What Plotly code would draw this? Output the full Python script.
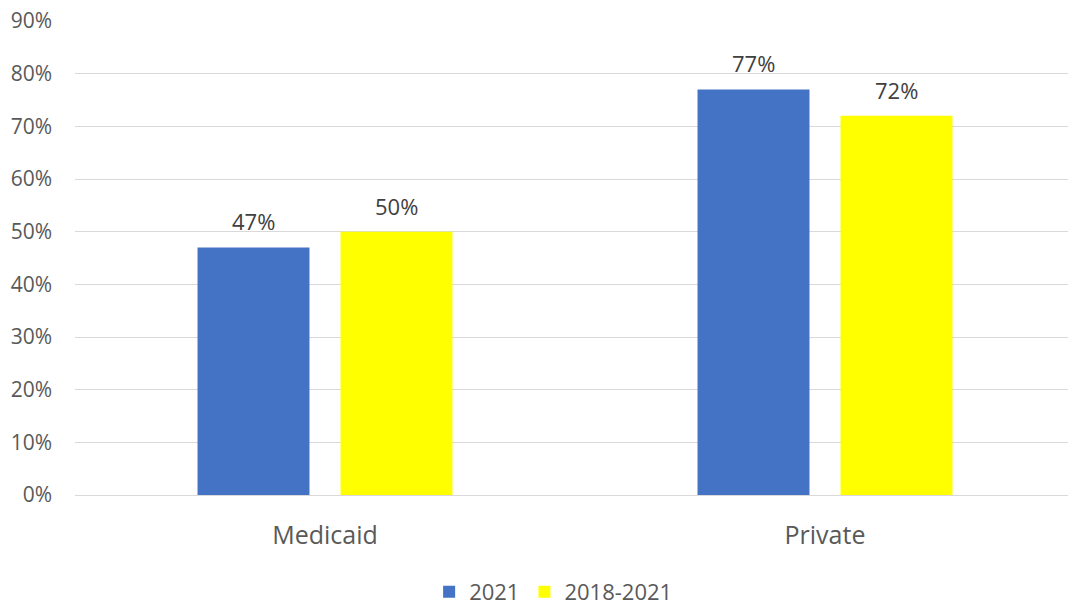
import plotly.graph_objects as go

categories = ["Medicaid", "Private"]
series_names = ["2021", "2018-2021"]
values_2021 = [0.47, 0.77]
values_2018_2021 = [0.50, 0.72]
colors = ["#4472C4", "#FFFF00"]
y_ticks = [0, 0.1, 0.2, 0.3, 0.4, 0.5, 0.6, 0.7, 0.8, 0.9]

FONT = "Open Sans"
TXT = "#595959"

bargap = 0.428
bargroupgap = 0.217

fig = go.Figure()
series = [values_2021, values_2018_2021]
for name, vals, col in zip(series_names, series, colors):
    fig.add_trace(go.Bar(
        x=categories, y=vals, name=name, marker=dict(color=col, line=dict(width=0)),
    ))

# data labels above bars
slot = (1 - bargap) / 2
for si, vals in enumerate(series):
    off = (si - 0.5) * slot
    for ci, v in enumerate(vals):
        fig.add_annotation(x=ci + off, y=v, xref="x", yref="y",
                           text=f"{v*100:.0f}%", showarrow=False,
                           yanchor="middle", yshift=26,
                           font=dict(family=FONT, size=22, color="#404040"))

fig.update_layout(
    width=1068, height=603,
    margin=dict(l=75, r=0, t=21, b=108, autoexpand=False),
    paper_bgcolor="white", plot_bgcolor="white",
    barmode="group", bargap=bargap, bargroupgap=bargroupgap,
    font=dict(family=FONT, color=TXT, size=20),
    showlegend=True,
    legend=dict(orientation="h", x=0.482, xanchor="center", y=-0.2046, yanchor="middle",
                font=dict(family=FONT, size=22, color=TXT), traceorder="normal",
                itemwidth=30, tracegroupgap=0),
)
fig.update_xaxes(type="category", range=[-0.5, 1.486], showgrid=False, showline=False,
                 ticks="", tickfont=dict(family=FONT, size=25, color=TXT),
                 ticklabelstandoff=23, zeroline=False, automargin=False)
fig.update_yaxes(range=[0, 0.9], tickvals=y_ticks, tickformat=".0%",
                 showgrid=True, gridcolor="#D9D9D9", gridwidth=1,
                 zeroline=True, zerolinecolor="#D9D9D9", zerolinewidth=1,
                 showline=False, ticks="", ticklabelstandoff=22, automargin=False,
                 tickfont=dict(family=FONT, size=21, color=TXT))

fig.write_html("out.html", config={"displayModeBar": False},
               post_script="document.body.style.margin='0px';document.body.style.overflow='hidden';")
